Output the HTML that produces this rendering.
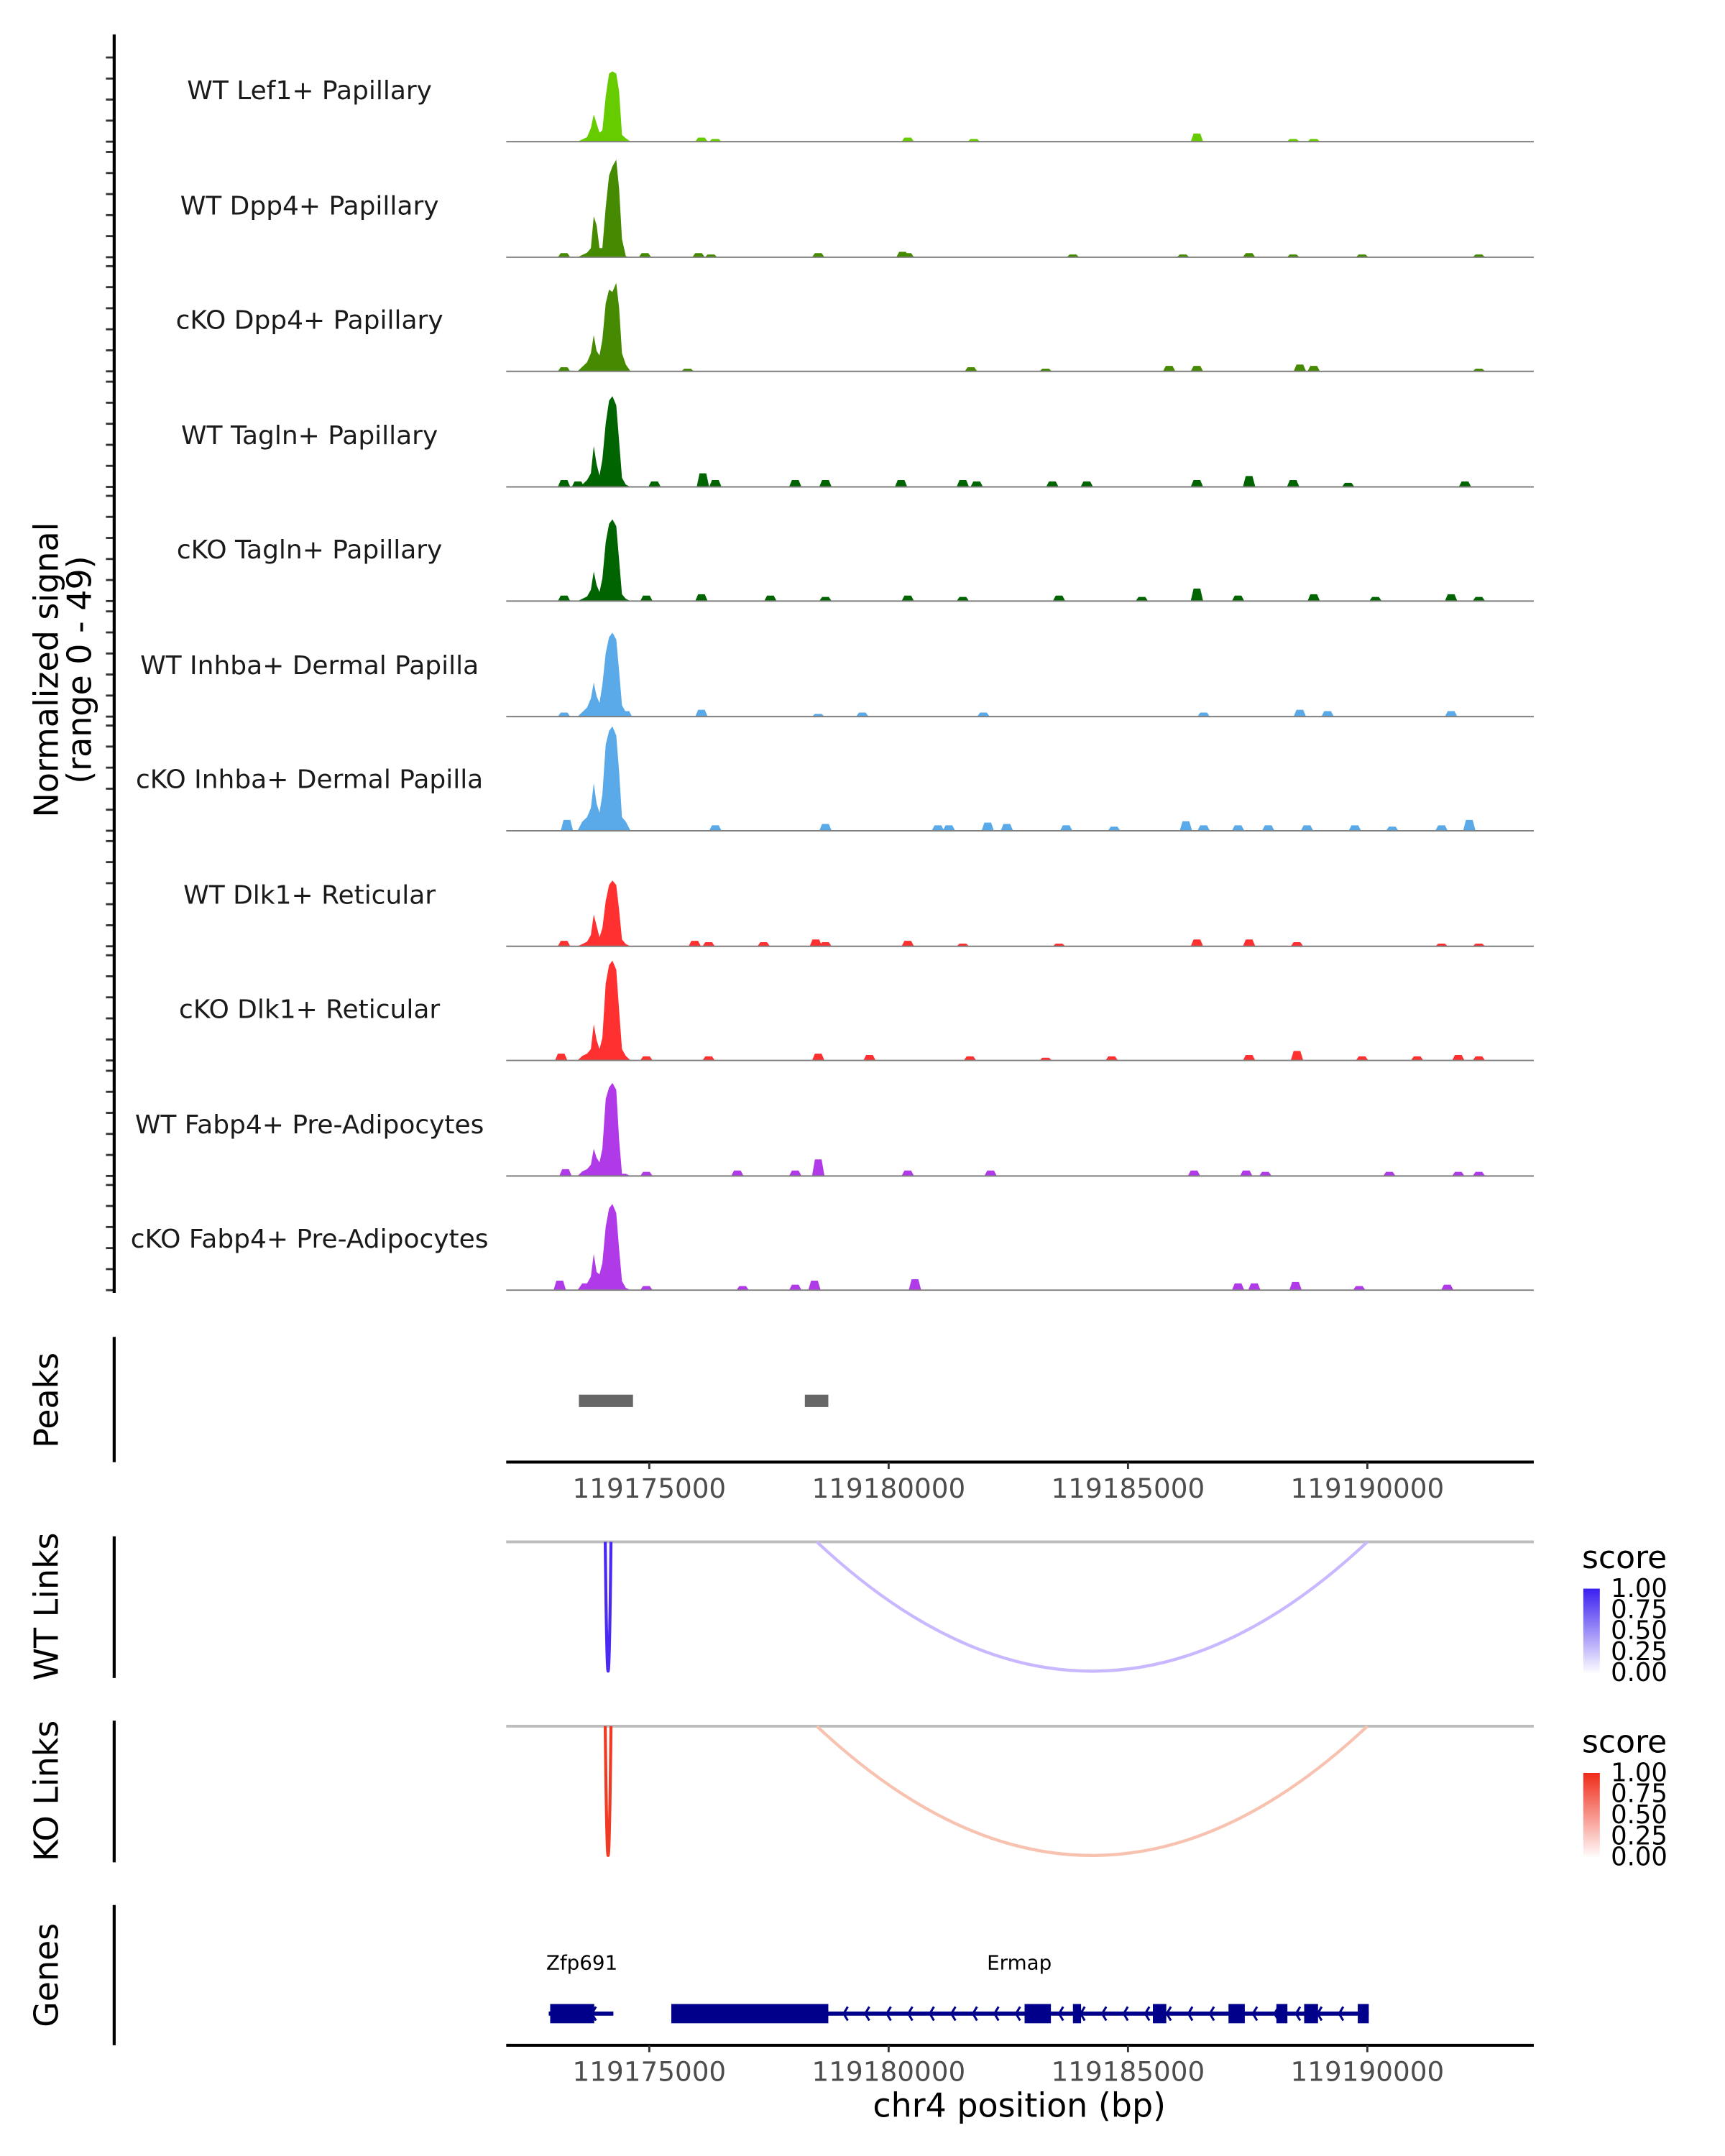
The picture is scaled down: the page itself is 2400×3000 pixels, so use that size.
<!DOCTYPE html>
<html><head><meta charset="utf-8">
<style>html,body{margin:0;padding:0;background:#fff}svg{display:block}text{font-family:"DejaVu Sans","Liberation Sans",sans-serif}</style>
</head><body>
<svg id="chart" width="2400" height="3000" viewBox="0 0 1254 1567.5" preserveAspectRatio="none" xmlns="http://www.w3.org/2000/svg">
<g id="tracks"></g>
<g id="axes"></g>
</svg>
<script>
// ---- data ----
const trackNames = ["WT Lef1+ Papillary","WT Dpp4+ Papillary","cKO Dpp4+ Papillary","WT Tagln+ Papillary","cKO Tagln+ Papillary","WT Inhba+ Dermal Papilla","cKO Inhba+ Dermal Papilla","WT Dlk1+ Reticular","cKO Dlk1+ Reticular","WT Fabp4+ Pre-Adipocytes","cKO Fabp4+ Pre-Adipocytes"];
const trackColors = ["#66cc00","#458a00","#458a00","#006400","#006400","#5aa9e8","#5aa9e8","#ff3030","#ff3030","#b03ae8","#b03ae8"];
// positions in kb offset from 119170000
const mainPos = [3.50,3.60,3.70,3.78,3.84,3.90,3.96,4.02,4.09,4.16,4.23,4.31,4.37,4.43,4.51,4.61];
const mainVals = [
 [0,1,2,6,12,8,4,5,20,30,31,30,22,3,1.5,0],
 [0,1,2,4,18,14,4,4,22,36,40,43,30,8,0.5,0],
 [0,2,4,8,16,9,7,14,30,36,35,39,28,8,3,0],
 [0,1,3,6,18,10,5,12,28,38,40,36,20,4,1,0],
 [0,1,2,5,13,7,4,10,26,34,36,33,18,3,1,0],
 [0,2,4,8,15,9,6,14,28,35,37,34,20,5,2,0],
 [0,4,6,10,21,12,8,16,38,44,46,42,26,6,4,0],
 [0,1,2,5,14,9,4,8,20,27,29,27,16,3,1,0],
 [0,2,3,5,16,9,5,10,34,42,44,40,22,5,2,0],
 [0,2,3,5,12,8,6,12,34,39,41,38,16,1,1,0],
 [0,3,3,6,16,8,7,12,28,36,38,34,18,4,1,0]];
const bumpPos = [
 [6.09,6.38,10.4,11.78,16.44,18.45,18.88],
 [3.22,4.91,6.03,6.29,8.53,10.29,10.4,13.85,16.15,17.53,18.45,19.89,22.33],
 [3.22,5.80,11.72,13.28,15.86,16.44,18.59,18.88,22.33],
 [3.22,3.51,5.11,6.12,6.38,8.05,8.68,10.26,11.55,11.84,13.42,14.14,16.44,17.53,18.45,19.6,22.04],
 [3.22,4.94,6.09,7.53,8.68,10.4,11.55,13.56,15.29,16.44,17.30,18.88,20.17,21.75,22.33],
 [3.22,4.51,6.09,8.53,9.45,11.98,16.58,18.59,19.17,21.75],
 [3.28,6.38,8.68,11.03,11.26,12.07,12.47,13.71,14.71,16.21,16.58,17.30,17.93,18.74,19.74,20.52,21.55,22.13],
 [3.22,5.95,6.24,7.39,8.48,8.68,10.4,11.55,13.56,16.44,17.53,18.53,21.55,22.33],
 [3.16,4.94,6.24,8.53,9.6,11.7,13.28,14.66,17.53,18.53,19.89,21.04,21.9,22.33],
 [3.25,4.94,6.84,8.05,8.53,10.4,12.13,16.38,17.47,17.87,20.46,21.9,22.33],
 [3.13,4.94,6.95,8.05,8.45,10.55,17.30,17.64,18.5,19.83,21.67]];
const bumpVals = [
 [1.8,1.2,1.8,1.2,3.6,1.2,1.2],
 [1.8,1.8,1.8,1.2,1.8,2.4,1.8,1.2,1.2,1.8,1.2,1.2,1.2],
 [1.8,1.2,1.8,1.2,2.4,2.4,3,2.4,1.2],
 [3,2.4,2.4,6,3,3,3,3,3,2.4,2.4,2.4,3,4.8,3,1.8,2.4],
 [2.4,2.4,3,2.4,1.8,2.4,1.8,2.4,1.8,5.5,2.4,3,1.8,3,1.8],
 [1.8,2.4,3,1.2,1.8,1.8,1.8,3,2.4,2.4],
 [4.8,2.4,3,2.4,2.4,3.6,3,2.4,1.8,4.2,2.4,2.4,2.4,2.4,2.4,1.8,2.4,4.8],
 [2.4,2.4,1.8,1.8,3,1.8,2.4,1.2,1.2,3,3,1.8,1.2,1.2],
 [3,1.8,1.8,3,2.4,1.8,1.2,1.8,2.4,4.2,1.8,1.8,2.4,1.8],
 [3,1.8,2.4,2.4,7.3,2.4,2.4,2.4,2.4,1.8,1.8,1.8,1.8],
 [4.2,1.8,1.8,2.4,4.2,4.8,3,3,3.6,1.8,2.4]];
const peakStarts = [3.53, 8.25];
const peakEnds = [4.66, 8.74];
const xTickKb = [5, 10, 15, 20];
const xTickLabels = ["119175000","119180000","119185000","119190000"];
const linkStarts = [4.08, 8.5];
const linkEnds = [4.2, 20.0];
const wtLinkColors = ["#4a2af0", "#c9b8ff"];
const koLinkColors = ["#ef3b24", "#f8c2b0"];
const zfpExons = [[2.93, 3.85]];
const zfpSpan = [2.9, 4.25];
const ermapExons = [[5.46,8.74],[12.84,13.39],[13.85,14.02],[15.52,15.8],[17.1,17.44],[18.1,18.33],[18.68,18.97],[19.8,20.03]];
const ermapSpan = [5.46, 20.03];

// ---- scales ----
const NS = "http://www.w3.org/2000/svg";
const X0 = 368, X1 = 1115;
const x = kb => 472 + (kb - 5) * 34.8;
const baselines = [103,187,270,354,437,521,604,688,771,855,938];
const pxPerUnit = 1.65;
function mk(tag, attrs, parent, txt) {
  const e = document.createElementNS(NS, tag);
  for (const k in attrs) e.setAttribute(k, attrs[k]);
  if (txt !== undefined) e.textContent = txt;
  parent.appendChild(e);
  return e;
}
const tracks = document.getElementById('tracks');
const axes = document.getElementById('axes');
const svg = document.getElementById('chart');

trackNames.forEach((name, i) => {
  const b = baselines[i];
  const g = mk('g', {}, tracks);
  
  
  let d = 'M' + x(mainPos[0]) + ' ' + b;
  mainPos.forEach((p, j) => { d += ' L' + x(p).toFixed(2) + ' ' + (b - mainVals[i][j] * pxPerUnit).toFixed(2); });
  d += ' L' + x(mainPos[mainPos.length - 1]) + ' ' + b + ' Z';
  const pk = mk('path', {d: d, fill: trackColors[i]}, g);
  
  
  bumpPos[i].forEach((p, j) => {
    const h = bumpVals[i][j] * pxPerUnit;
    const bd = 'M' + x(p - 0.13) + ' ' + b + ' L' + x(p - 0.07) + ' ' + (b - h) + ' L' + x(p + 0.07) + ' ' + (b - h) + ' L' + x(p + 0.13) + ' ' + b + ' Z';
    const bp = mk('path', {d: bd, fill: trackColors[i]}, g);
    
    
  });
  const bl = mk('line', {x1: X0, x2: X1, y1: b, y2: b, stroke: '#7f7f7f', 'stroke-width': 1}, g);
  
  
  const lt = mk('text', {x: 225, y: b - 31, 'font-size': 18.8, 'text-anchor': 'middle', fill: '#1a1a1a'}, g, name);
  
  
  const top = i === 0 ? 25 : baselines[i - 1];
  for (let y = b; y > top + 2; y -= 15.3) {
    const t = mk('line', {x1: 77, x2: 83, y1: y, y2: y, stroke: '#333', 'stroke-width': 1.5}, axes);
    
    
  }
});
[[25, 940], [972, 1063], [1117, 1220], [1251, 1354], [1385, 1487]].forEach(([a, c]) => {
  const l = mk('line', {x1: 83, x2: 83, y1: a, y2: c, stroke: '#000', 'stroke-width': 2.2}, axes);
  
  
});
function rotText(txt, cx, cy, size, nm) {
  const t = mk('text', {x: cx, y: cy, 'font-size': size, 'text-anchor': 'middle', transform: 'rotate(-90 ' + cx + ' ' + cy + ')', fill: '#000'}, svg, txt);
  
  
}
rotText('Normalized signal', 42, 487, 24, 'y-axis-title');
rotText('(range 0 - 49)', 66, 487, 24, 'y-axis-range');
rotText('Peaks', 42, 1018, 24, 'peaks-label');
rotText('WT Links', 42, 1168, 24, 'wt-links-label');
rotText('KO Links', 42, 1302, 24, 'ko-links-label');
rotText('Genes', 42, 1436, 24, 'genes-label');

peakStarts.forEach((s, i) => {
  const r = mk('rect', {x: x(s), y: 1014, width: x(peakEnds[i]) - x(s), height: 9, fill: '#666'}, svg);
  
  
});
function xAxis(y, nm) {
  const l = mk('line', {x1: X0, x2: X1, y1: y, y2: y, stroke: '#000', 'stroke-width': 2.2}, svg);
  
  
  xTickKb.forEach((k, i) => {
    const t = mk('line', {x1: x(k), x2: x(k), y1: y, y2: y + 5, stroke: '#333', 'stroke-width': 1.5}, svg);
    
    
    const tl = mk('text', {x: x(k), y: y + 26, 'font-size': 19.5, 'text-anchor': 'middle', fill: '#4d4d4d'}, svg, xTickLabels[i]);
    
    
  });
}
xAxis(1063, 'peaks-x-axis');

function links(y0, yb, colors, nm) {
  const l = mk('line', {x1: X0, x2: X1, y1: y0, y2: y0, stroke: '#bdbdbd', 'stroke-width': 2}, svg);
  
  
  linkStarts.forEach((s, i) => {
    const a = x(s), c = x(linkEnds[i]), cy = y0 + (yb - y0) * 2;
    const p = mk('path', {d: 'M' + a + ' ' + y0 + ' Q' + ((a + c) / 2) + ' ' + cy + ' ' + c + ' ' + y0, fill: 'none', stroke: colors[i], 'stroke-width': 2.2}, svg);
    
    
  });
}
links(1121, 1215, wtLinkColors, 'wt-link');
links(1255, 1349, koLinkColors, 'ko-link');

const defs = mk('defs', {}, svg);
[['gw', '#3a1ff0'], ['gk', '#f02a18']].forEach(([id, c]) => {
  const lg = mk('linearGradient', {id: id, x1: 0, y1: 1, x2: 0, y2: 0}, defs);
  mk('stop', {offset: 0, 'stop-color': '#ffffff'}, lg);
  mk('stop', {offset: 1, 'stop-color': c}, lg);
});
function legend(y, grad, nm) {
  const g = mk('g', {}, svg);
  
  
  mk('text', {x: 1150, y: y, 'font-size': 23, fill: '#000'}, g, 'score');
  mk('rect', {x: 1151, y: y + 15, width: 12, height: 62, fill: 'url(#' + grad + ')'}, g);
  ['1.00', '0.75', '0.50', '0.25', '0.00'].forEach((t, i) => {
    mk('text', {x: 1171, y: y + 21 + i * 15.3, 'font-size': 18.5, fill: '#000'}, g, t);
  });
}
legend(1140, 'gw', 'wt-score-legend');
legend(1274, 'gk', 'ko-score-legend');

const gc = '#00008b';
function gene(span, exons, label, lx, nm) {
  const g = mk('g', {}, svg);
  
  
  mk('line', {x1: x(span[0]), x2: x(span[1]), y1: 1464, y2: 1464, stroke: gc, 'stroke-width': 3}, g);
  exons.forEach(e => { mk('rect', {x: x(e[0]), y: 1457, width: x(e[1]) - x(e[0]), height: 14, fill: gc}, g); });
  for (let k = span[0] + 0.45; k < span[1] - 0.2; k += 0.45) {
    const px = x(k);
    mk('path', {d: 'M' + (px + 3) + ' 1459 L' + px + ' 1464 L' + (px + 3) + ' 1469', fill: 'none', stroke: gc, 'stroke-width': 1.6}, g);
  }
  mk('text', {x: lx, y: 1432, 'font-size': 14.5, 'text-anchor': 'middle', fill: '#000'}, g, label);
}
gene(zfpSpan, zfpExons, 'Zfp691', 423, 'gene-zfp691');
gene(ermapSpan, ermapExons, 'Ermap', 741, 'gene-ermap');
xAxis(1487, 'genes-x-axis');
const xt = mk('text', {x: 741, y: 1539, 'font-size': 24, 'text-anchor': 'middle', fill: '#000'}, svg, 'chr4 position (bp)');


</script>
</body></html>
